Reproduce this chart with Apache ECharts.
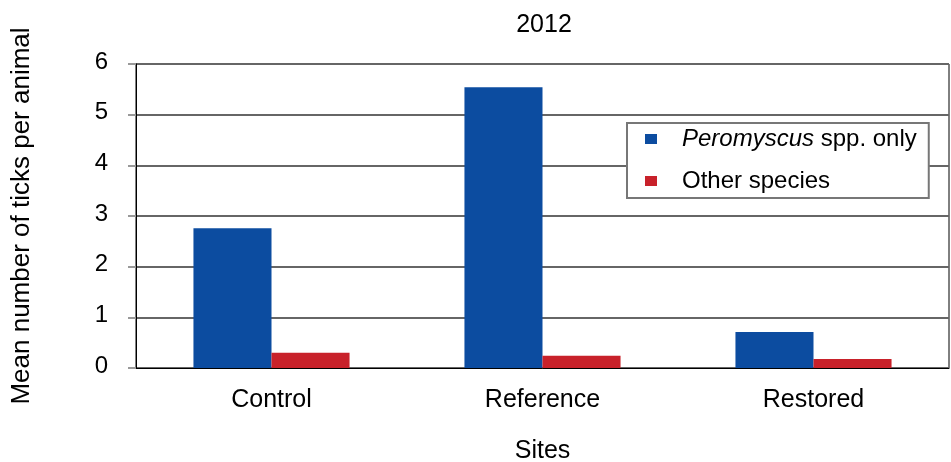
<!DOCTYPE html>
<html>
<head>
<meta charset="utf-8">
<script src="https://cdn.jsdelivr.net/npm/echarts@6/dist/echarts.min.js"></script>
<style>
html,body{margin:0;padding:0;background:#fff;}
#chart{width:951px;height:462px;}
</style>
</head>
<body>
<div id="chart"></div>
<script>
const titleText = '2012';
const categories = ['Control', 'Reference', 'Restored'];
const seriesNames = ['Peromyscus spp. only', 'Other species'];
const peromyscus = [2.76, 5.54, 0.71];
const otherSpecies = [0.30, 0.24, 0.18];
const yTicks = [0, 1, 2, 3, 4, 5, 6];

const FONT = '"Liberation Sans", Arial, Helvetica, sans-serif';
const chart = echarts.init(document.getElementById('chart'));
chart.setOption({
  animation: false,
  textStyle: { fontFamily: FONT, color: '#000' },
  title: {
    text: titleText, left: 539, top: 8, textAlign: 'center',
    textStyle: { fontFamily: FONT, fontSize: 25, fontWeight: 'normal', color: '#000' }
  },
  grid: { left: 136, right: 2, top: 64, bottom: 94, containLabel: false, outerBoundsMode: 'none',
    show: true, borderColor: '#000', borderWidth: 1, backgroundColor: 'transparent' },
  legend: {
    orient: 'vertical', left: 627, top: 123,
    data: seriesNames,
    icon: 'rect', itemWidth: 12, itemHeight: 10, itemGap: 18,
    padding: [4, 12, 5, 18],
    backgroundColor: '#fff', borderColor: '#777', borderWidth: 2,
    formatter: function (n) { return n === seriesNames[0] ? '{i|Peromyscus}{n| spp. only}' : '{n|' + n + '}'; },
    textStyle: {
      fontFamily: FONT, fontSize: 24, color: '#000', padding: [0, 0, 0, 20],
      rich: {
        i: { fontFamily: FONT, fontSize: 24, fontStyle: 'italic', color: '#000', lineHeight: 26 },
        n: { fontFamily: FONT, fontSize: 24, color: '#000', lineHeight: 26 }
      }
    }
  },
  xAxis: {
    type: 'category', data: categories,
    name: 'Sites', nameLocation: 'middle', nameGap: 71,
    nameTextStyle: { fontFamily: FONT, fontSize: 25, color: '#000' },
    axisLine: { show: true, lineStyle: { color: '#000', width: 1 } },
    axisTick: { show: false },
    axisLabel: { fontFamily: FONT, fontSize: 25, color: '#000', margin: 20 }
  },
  yAxis: {
    type: 'value', min: yTicks[0], max: yTicks[yTicks.length - 1], interval: 1,
    name: 'Mean number of ticks per animal', nameLocation: 'middle', nameGap: 101,
    nameTextStyle: { fontFamily: FONT, fontSize: 26, color: '#000' },
    axisLine: { show: true, lineStyle: { color: '#000', width: 1 } },
    axisTick: { show: true, length: 8, inside: false, lineStyle: { color: '#999', width: 2 } },
    axisLabel: {
      fontFamily: FONT, fontSize: 24, color: '#000', margin: 28,
      formatter: function (v) { return '{a|' + v + '}'; },
      rich: { a: { fontFamily: FONT, fontSize: 24, color: '#000', padding: [0, 0, 4, 0] } }
    },
    splitLine: { show: true, lineStyle: { color: '#666', width: 2 } }
  },
  series: [
    { name: seriesNames[0], type: 'bar', data: peromyscus, barWidth: '28.8%', barGap: '0%',
      itemStyle: { color: '#0c4ca0' }, z: 3 },
    { name: seriesNames[1], type: 'bar', data: otherSpecies, barWidth: '28.8%', barGap: '0%',
      itemStyle: { color: '#c8212a' }, z: 3 }
  ]
});
</script>
</body>
</html>
